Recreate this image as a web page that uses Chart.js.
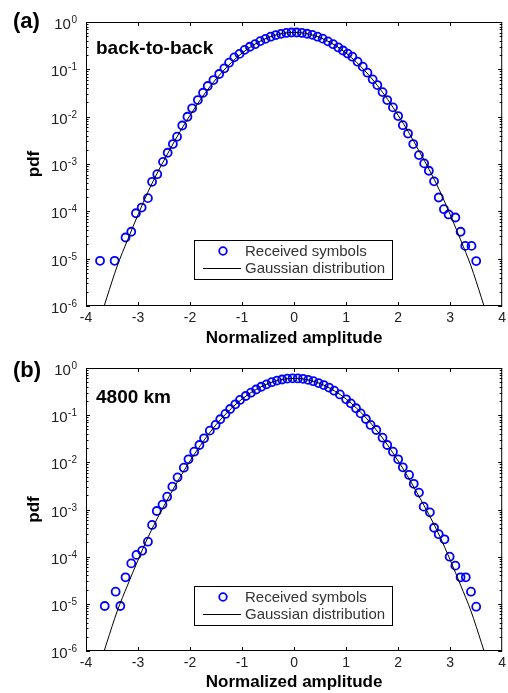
<!DOCTYPE html>
<html>
<head>
<meta charset="utf-8">
<script src="https://cdn.jsdelivr.net/npm/chart.js@4.4.1/dist/chart.umd.min.js"></script>
<style>
  body { margin: 0; background: #fff; width: 508px; height: 693px; overflow: hidden; position: relative; }
  canvas { position: absolute; left: 0; }
  #chartA { top: 0; }
  #chartB { top: 346px; }
</style>
</head>
<body>
<canvas id="chartA" width="508" height="349"></canvas>
<canvas id="chartB" width="508" height="347"></canvas>
<script>
// Gaussian reference curve
const lineX = [-3.8, -3.6, -3.4, -3.2, -3.0, -2.8, -2.6, -2.4, -2.2, -2.0, -1.8, -1.6, -1.4, -1.2, -1.0, -0.8, -0.6, -0.4, -0.2, 0,
  0.2, 0.4, 0.6, 0.8, 1.0, 1.2, 1.4, 1.6, 1.8, 2.0, 2.2, 2.4, 2.6, 2.8, 3.0, 3.2, 3.4, 3.6, 3.8];
const lineY = [3.0e-7, 1.5e-6, 7.0e-6, 2.5e-5, 8.5e-5, 2.7e-4, 7.5e-4, 1.9e-3, 4.7e-3, 0.0107, 0.023, 0.0457, 0.0837, 0.141, 0.22, 0.316, 0.419, 0.513, 0.579, 0.603,
  0.579, 0.513, 0.419, 0.316, 0.22, 0.141, 0.0837, 0.0457, 0.023, 0.0107, 4.7e-3, 1.9e-3, 7.5e-4, 2.7e-4, 8.5e-5, 2.5e-5, 7.0e-6, 1.5e-6, 3.0e-7];

// (a) back-to-back received symbols
const xA = [-3.73, -3.45, -3.24, -3.13, -3.04, -2.93, -2.81, -2.73, -2.63, -2.52, -2.43, -2.33, -2.25, -2.15, -2.05, -1.96, -1.85, -1.75, -1.66, -1.55,
  -1.44, -1.34, -1.25, -1.15, -1.05, -0.95, -0.85, -0.75, -0.65, -0.55, -0.45, -0.35, -0.25, -0.15, -0.05, 0.05, 0.15, 0.25, 0.35, 0.45,
  0.55, 0.65, 0.75, 0.85, 0.94, 1.03, 1.12, 1.22, 1.32, 1.41, 1.51, 1.60, 1.70, 1.79, 1.90, 2.00, 2.09, 2.19, 2.29, 2.40,
  2.50, 2.59, 2.69, 2.78, 2.88, 2.97, 3.10, 3.20, 3.29, 3.41, 3.50];
const yA = [9e-6, 9e-6, 2.8e-5, 3.7e-5, 9.1e-5, 1.2e-4, 1.9e-4, 4.2e-4, 6.1e-4, 1.11e-3, 1.73e-3, 2.64e-3, 3.77e-3, 6.5e-3, 9.96e-3, 0.015, 0.0224, 0.032, 0.0444, 0.0594,
  0.0796, 0.105, 0.138, 0.179, 0.212, 0.258, 0.3, 0.34, 0.395, 0.44, 0.49, 0.53, 0.562, 0.588, 0.6, 0.6, 0.588, 0.565, 0.535, 0.49,
  0.445, 0.39, 0.34, 0.29, 0.25, 0.215, 0.185, 0.145, 0.114, 0.085, 0.0614, 0.0466, 0.033, 0.0224, 0.0157, 0.0103, 6.6e-3, 4.4e-3, 2.64e-3, 1.54e-3,
  1.03e-3, 7.2e-4, 4.3e-4, 1.96e-4, 1.11e-4, 8.6e-5, 7.4e-5, 3.7e-5, 1.86e-5, 1.86e-5, 8.9e-6];

// (b) 4800 km received symbols
const xB = [-3.64, -3.43, -3.34, -3.24, -3.13, -3.03, -2.92, -2.81, -2.73, -2.64, -2.53, -2.44, -2.34, -2.24, -2.12, -2.03, -1.92, -1.82, -1.73, -1.62,
  -1.51, -1.42, -1.32, -1.23, -1.13, -1.04, -0.93, -0.83, -0.73, -0.63, -0.53, -0.43, -0.33, -0.23, -0.13, -0.03, 0.07, 0.17, 0.27, 0.37,
  0.47, 0.57, 0.67, 0.77, 0.88, 1.00, 1.09, 1.19, 1.28, 1.38, 1.47, 1.58, 1.70, 1.79, 1.90, 2.00, 2.09, 2.21, 2.30, 2.40,
  2.49, 2.61, 2.69, 2.78, 2.89, 2.99, 3.10, 3.20, 3.30, 3.40, 3.50];
const yB = [9e-6, 1.81e-5, 9e-6, 3.65e-5, 7.2e-5, 1.09e-4, 1.34e-4, 2.08e-4, 4.7e-4, 9.3e-4, 1.27e-3, 1.87e-3, 3.05e-3, 4.8e-3, 7.7e-3, 0.0116, 0.0168, 0.0233, 0.0323, 0.047,
  0.062, 0.082, 0.106, 0.135, 0.17, 0.21, 0.255, 0.3, 0.35, 0.4, 0.45, 0.5, 0.54, 0.57, 0.595, 0.605, 0.6, 0.59, 0.56, 0.525,
  0.48, 0.435, 0.385, 0.33, 0.275, 0.217, 0.178, 0.14, 0.109, 0.083, 0.062, 0.0485, 0.0333, 0.0233, 0.0168, 0.0116, 7.85e-3, 5.4e-3, 3.5e-3, 2.28e-3,
  1.15e-3, 8.7e-4, 4.1e-4, 3.0e-4, 2.33e-4, 1.0e-4, 6.45e-5, 3.65e-5, 3.65e-5, 1.81e-5, 8.7e-6];

const yTickValues = [1, 1e-1, 1e-2, 1e-3, 1e-4, 1e-5, 1e-6];
const yTickExponents = ['0', '-1', '-2', '-3', '-4', '-5', '-6'];
const legendLabels = ['Received symbols', 'Gaussian distribution'];

const FONT = '"Liberation Sans", Arial, sans-serif';
const BLUE = '#0000ff';

// box, inward ticks, superscript y labels, legend, annotations
const framePlugin = {
  id: 'frame',
  afterDraw(chart, args, opts) {
    const ctx = chart.ctx;
    const a = chart.chartArea;
    const xs = chart.scales.x, ys = chart.scales.y;
    ctx.save();
    ctx.strokeStyle = '#000';
    ctx.lineWidth = 1;
    ctx.strokeRect(a.left + 0.5, a.top + 0.5, a.right - a.left - 1, a.bottom - a.top - 1);

    ctx.beginPath();
    for (let v = -3; v <= 3; v++) {
      const px = Math.round(xs.getPixelForValue(v)) + 0.5;
      ctx.moveTo(px, a.bottom); ctx.lineTo(px, a.bottom - 4);
      ctx.moveTo(px, a.top); ctx.lineTo(px, a.top + 4);
    }
    for (let e = -6; e <= 0; e++) {
      const py = Math.round(ys.getPixelForValue(Math.pow(10, e))) + 0.5;
      ctx.moveTo(a.left, py); ctx.lineTo(a.left + 4, py);
      ctx.moveTo(a.right, py); ctx.lineTo(a.right - 4, py);
      if (e < 0) {
        for (let m = 2; m <= 9; m++) {
          const pm = Math.round(ys.getPixelForValue(m * Math.pow(10, e))) + 0.5;
          ctx.moveTo(a.left, pm); ctx.lineTo(a.left + 2.5, pm);
          ctx.moveTo(a.right, pm); ctx.lineTo(a.right - 2.5, pm);
        }
      }
    }
    ctx.stroke();

    // y tick labels 10^n
    ctx.fillStyle = '#222';
    ctx.textBaseline = 'alphabetic';
    yTickValues.forEach((v, i) => {
      const py = ys.getPixelForValue(v);
      const right = a.left - 9;
      ctx.font = '10px ' + FONT;
      ctx.textAlign = 'right';
      const ew = ctx.measureText(yTickExponents[i]).width;
      ctx.fillText(yTickExponents[i], right, py + 1);
      ctx.font = '15px ' + FONT;
      ctx.fillText('10', right - ew - 0.5, py + 7);
    });

    // legend
    const bx = a.left + 108, by = a.top + 218, bw = 198, bh = 39;
    ctx.fillStyle = '#fff';
    ctx.fillRect(bx, by, bw, bh);
    ctx.strokeStyle = '#000';
    ctx.strokeRect(bx + 0.5, by + 0.5, bw, bh);
    ctx.strokeStyle = BLUE;
    ctx.lineWidth = 1.8;
    ctx.beginPath();
    ctx.arc(bx + 29, by + 11, 3.8, 0, Math.PI * 2);
    ctx.stroke();
    ctx.strokeStyle = '#000';
    ctx.lineWidth = 1;
    ctx.beginPath();
    ctx.moveTo(bx + 9, by + 28.5); ctx.lineTo(bx + 47, by + 28.5);
    ctx.stroke();
    ctx.fillStyle = '#333';
    ctx.font = '15px ' + FONT;
    ctx.textAlign = 'left';
    ctx.fillText(legendLabels[0], bx + 51, by + 16);
    ctx.fillText(legendLabels[1], bx + 51, by + 33);

    // panel tag and caption
    ctx.fillStyle = '#000';
    ctx.font = 'bold 22px ' + FONT;
    ctx.fillText(opts.tag, 13, opts.tagY);
    ctx.font = 'bold 19px ' + FONT;
    ctx.fillText(opts.caption, a.left + 10, a.top + opts.captionDy);
    ctx.restore();
  }
};

function makeChart(id, xs, ys, tag, tagY, caption, captionDy, xHeight) {
  const ctx = document.getElementById(id).getContext('2d');
  return new Chart(ctx, {
    type: 'scatter',
    data: {
      datasets: [
        {
          label: legendLabels[0],
          data: xs.map((x, i) => ({ x: x, y: ys[i] })),
          pointStyle: 'circle',
          pointRadius: 4,
          pointBorderWidth: 1.8,
          pointBorderColor: BLUE,
          pointBackgroundColor: 'rgba(0,0,0,0)',
          showLine: false,
          order: 2
        },
        {
          label: legendLabels[1],
          data: lineX.map((x, i) => ({ x: x, y: lineY[i] })),
          showLine: true,
          pointRadius: 0,
          borderColor: '#000',
          borderWidth: 1,
          cubicInterpolationMode: 'monotone',
          order: 1
        }
      ]
    },
    options: {
      responsive: false,
      animation: false,
      events: [],
      layout: { padding: { left: 24, right: 4, top: 22, bottom: 0 } },
      plugins: {
        legend: { display: false },
        tooltip: { enabled: false },
        frame: { tag: tag, tagY: tagY, caption: caption, captionDy: captionDy }
      },
      scales: {
        x: {
          type: 'linear', min: -4, max: 4,
          grid: { display: false, drawTicks: false },
          border: { display: false },
          ticks: { stepSize: 1, color: '#222', font: { family: FONT, size: 14 }, padding: 4, maxRotation: 0 },
          title: { display: true, text: 'Normalized amplitude', color: '#000', font: { family: FONT, size: 17, weight: 'bold' }, padding: 0 },
          afterFit(s) { s.height = xHeight; s.paddingLeft = 0; s.paddingRight = 0; }
        },
        y: {
          type: 'logarithmic', min: 1e-6, max: 1,
          grid: { display: false, drawTicks: false },
          border: { display: false },
          ticks: { display: false },
          title: { display: true, text: 'pdf', color: '#000', font: { family: FONT, size: 17, weight: 'bold' }, padding: 0 },
          afterBuildTicks(s) { s.ticks = yTickValues.map(v => ({ value: v })); },
          afterFit(s) { s.width = 62; s.paddingTop = 0; s.paddingBottom = 0; }
        }
      }
    },
    plugins: [framePlugin]
  });
}

makeChart('chartA', xA, yA, '(a)', 28, 'back-to-back', 32, 43);
makeChart('chartB', xB, yB, '(b)', 31, '4800 km', 35, 42);
</script>
</body>
</html>
